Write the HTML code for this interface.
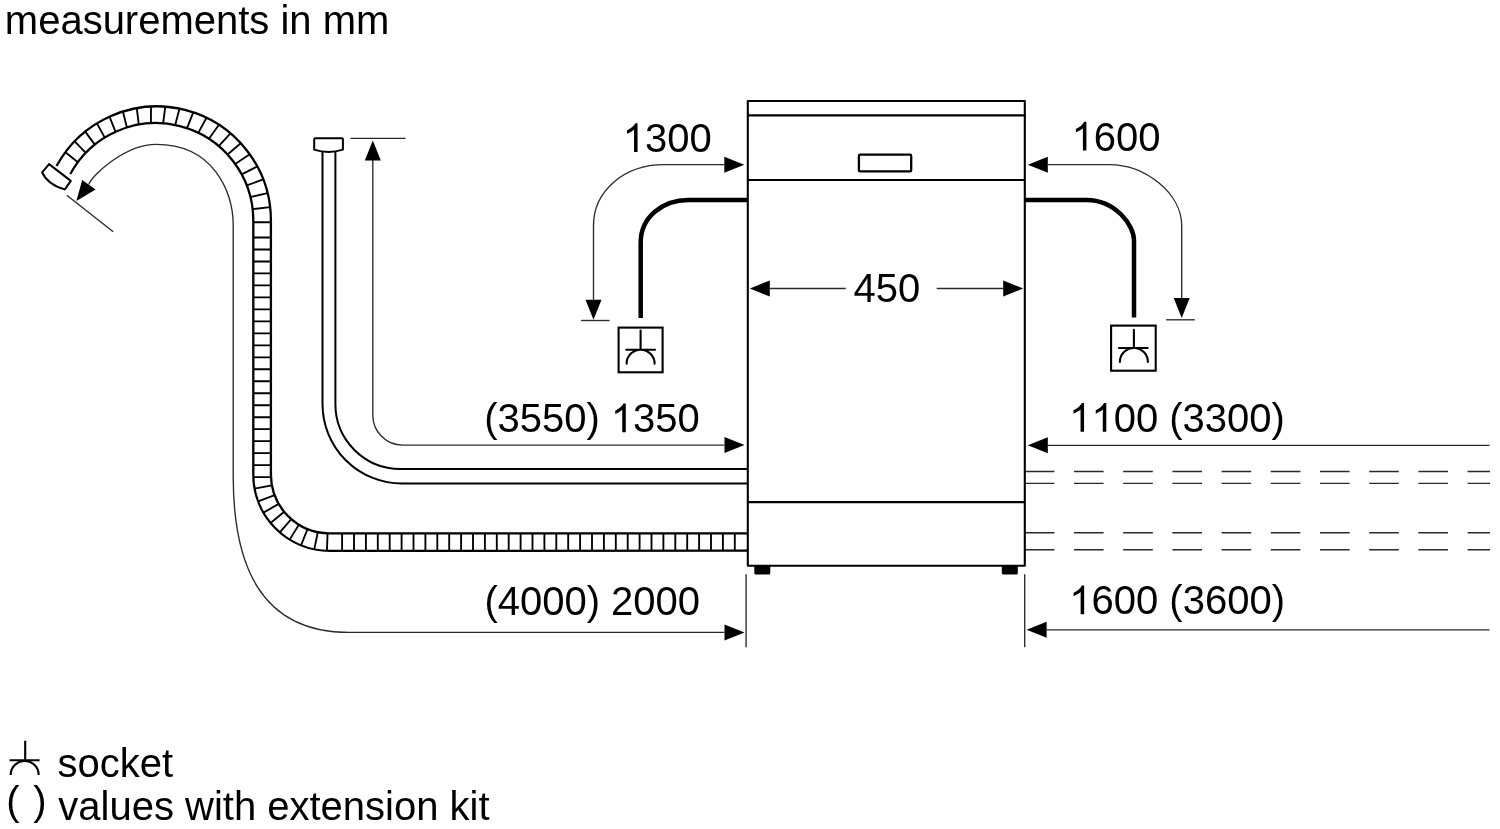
<!DOCTYPE html>
<html><head><meta charset="utf-8"><title>measurements in mm</title>
<style>
html,body{margin:0;padding:0;background:#fff;}
body{width:1500px;height:829px;overflow:hidden;}
svg{display:block;filter:grayscale(1);}
text{font-family:"Liberation Sans",sans-serif;font-size:40px;fill:#000;font-kerning:none;font-feature-settings:"kern" 0;}
</style></head><body>
<svg width="1500" height="829" viewBox="0 0 1500 829">
<rect width="1500" height="829" fill="#fff"/>

<g fill="#000">
<text x="4.81 38.14 60.38 82.63 102.63 124.87 138.19 160.44 193.76 216.01 238.25 249.37 280.48 289.37 322.73 356.05" y="33.6">measurementsinmm</text>
<text x="644.91 667.15 689.4" y="152">300</text><path transform="translate(622.66 152) scale(0.019531 -0.019531)" d="M763 0H583V1147Q518 1085 412.5 1023Q307 961 223 930V1104Q374 1175 487 1276Q600 1377 647 1472H763Z"/>
<text x="1093.76 1116 1138.25" y="150.6">600</text><path transform="translate(1071.51 150.6) scale(0.019531 -0.019531)" d="M763 0H583V1147Q518 1085 412.5 1023Q307 961 223 930V1104Q374 1175 487 1276Q600 1377 647 1472H763Z"/>
<text x="853.5 875.75 898" y="302.3">450</text>
<text x="484.13 497.45 519.7 541.94 564.19 586.43 633.11 655.36 677.61" y="432.2">(3550)350</text><path transform="translate(610.87 432.2) scale(0.019531 -0.019531)" d="M763 0H583V1147Q518 1085 412.5 1023Q307 961 223 930V1104Q374 1175 487 1276Q600 1377 647 1472H763Z"/>
<text x="1113.64 1135.89 1169.25 1182.57 1204.82 1227.06 1249.31 1271.55" y="431.8">00(3300)</text><path transform="translate(1069.15 431.8) scale(0.019531 -0.019531)" d="M763 0H583V1147Q518 1085 412.5 1023Q307 961 223 930V1104Q374 1175 487 1276Q600 1377 647 1472H763Z"/><path transform="translate(1091.4 431.8) scale(0.019531 -0.019531)" d="M763 0H583V1147Q518 1085 412.5 1023Q307 961 223 930V1104Q374 1175 487 1276Q600 1377 647 1472H763Z"/>
<text x="484.38 497.7 519.95 542.19 564.44 586.68 611.12 633.36 655.61 677.86" y="615.2">(4000)2000</text>
<text x="1091.5 1113.74 1135.99 1169.35 1182.67 1204.92 1227.16 1249.41 1271.65" y="614.3">600(3600)</text><path transform="translate(1069.25 614.3) scale(0.019531 -0.019531)" d="M763 0H583V1147Q518 1085 412.5 1023Q307 961 223 930V1104Q374 1175 487 1276Q600 1377 647 1472H763Z"/>
<text x="57.59 77.59 99.83 119.83 139.83 162.08" y="776.6">socket</text>
<text x="58.26 78.26 100.51 109.4 131.64 153.89 185 213.89 222.78 233.89 267.25 289.49 309.49 320.61 342.85 365.1 385.1 393.99 416.23 449.59 469.59 478.48" y="819.8">valueswithextensionkit</text>
<text x="6.32" y="815.4">(</text>
<text x="33.16" y="815.4">)</text>
</g>
<g fill="none" stroke="#000">
<path d="M56.53 166.06A114.1 114.1 0 0 1 270.9 220.5L270.9 474.6A58.7 58.7 0 0 0 329.6 533.3L748 533.4" stroke-width="2.3"/>
<path d="M70.3 174.02A97.4 97.4 0 0 1 253.3 220.5L253.3 474.6A76.3 76.3 0 0 0 329.6 550.9L748 550.7" stroke-width="2.3"/>
<path d="M65.41 152.18L77.89 162.18M74.67 141.29L85.79 152.88M85.23 131.64L94.8 144.65M96.9 123.39L104.77 137.6M109.52 116.66L115.54 131.86M122.88 111.56L126.94 127.5M136.77 108.17L138.8 124.61M150.98 106.55L150.93 123.23M165.28 106.72L163.14 123.37M179.44 108.67L175.23 125.04M193.25 112.38L187.01 128.2M206.49 117.79L198.31 132.82M218.94 124.81L208.95 138.81M230.42 133.33L218.75 146.09M240.75 143.22L227.56 154.53M249.75 154.33L235.25 164.02M257.3 166.48L241.69 174.38M263.27 179.47L246.78 185.48M267.56 193.11L250.45 197.12M270.12 207.18L252.63 209.13M270.9 222.2L253.3 222.2M270.9 237.5L253.3 237.5M270.9 249.48L253.3 249.48M270.9 261.46L253.3 261.46M270.9 273.44L253.3 273.44M270.9 285.42L253.3 285.42M270.9 297.4L253.3 297.4M270.9 309.38L253.3 309.38M270.9 321.36L253.3 321.36M270.9 333.34L253.3 333.34M270.9 345.32L253.3 345.32M270.9 357.3L253.3 357.3M270.9 369.28L253.3 369.28M270.9 381.26L253.3 381.26M270.9 393.24L253.3 393.24M270.9 405.22L253.3 405.22M270.9 417.2L253.3 417.2M270.9 429.18L253.3 429.18M270.9 441.16L253.3 441.16M270.9 453.14L253.3 453.14M270.9 465.12L253.3 465.12M270.9 477.1L253.3 477.1M271.89 485.35L254.59 488.57M274.63 495.19L258.15 501.36M278.72 503.88L263.47 512.66M284.2 511.8L270.58 522.96M291.28 519.07L279.79 532.4M298.91 524.64L289.71 539.64M307.59 529.02L300.99 545.33M317.81 532.1L314.27 549.34M327.55 533.26L326.94 550.85M734.8 533.4L734.8 550.7M722.9 533.4L722.9 550.7M711 533.4L711 550.7M699.1 533.4L699.1 550.7M687.2 533.4L687.2 550.7M675.3 533.4L675.3 550.7M663.4 533.4L663.4 550.7M651.5 533.4L651.5 550.7M639.6 533.4L639.6 550.7M627.7 533.4L627.7 550.7M615.8 533.4L615.8 550.7M603.9 533.4L603.9 550.7M592 533.4L592 550.7M580.1 533.4L580.1 550.7M568.2 533.4L568.2 550.7M556.3 533.4L556.3 550.7M544.4 533.4L544.4 550.7M532.5 533.4L532.5 550.7M520.6 533.4L520.6 550.7M508.7 533.4L508.7 550.7M496.8 533.4L496.8 550.7M484.9 533.4L484.9 550.7M473 533.4L473 550.7M461.1 533.4L461.1 550.7M449.2 533.4L449.2 550.7M437.3 533.4L437.3 550.7M425.4 533.4L425.4 550.7M413.5 533.4L413.5 550.7M401.6 533.4L401.6 550.7M389.7 533.4L389.7 550.7M377.8 533.4L377.8 550.7M365.9 533.4L365.9 550.7M354 533.4L354 550.7M342.1 533.4L342.1 550.7" stroke-width="1.85"/>
</g>
<path d="M49.1 164.1L42.1 172.3Q47.5 184.4 64.9 189.4L70.8 180.9Z" fill="#fff" stroke="#000" stroke-width="2" stroke-linejoin="round"/>
<g fill="none" stroke="#2a2a2a" stroke-width="1.35">
<path d="M724.4 632.4H348.97C257.94 632.4 233.2 561.06 233.2 475.85V224.72C233.2 190.71 212.54 144.4 156.33 144.4C125.33 144.4 92.55 174.45 88.75 184.6"/>
<path d="M66.8 195.2L113.2 231.7"/>
<path d="M372.8 160V414.9A30 30 0 0 0 402.8 445.1H724.4"/>
<path d="M350.5 138.3H405.6"/>
<path d="M724.2 164.65H663.81C624.1 164.65 593.5 191.07 593.5 225.36V299.7"/>
<path d="M581.1 320.5H609.6"/>
<path d="M1047.9 164.65H1109C1145.5 164.65 1181.7 193.5 1181.7 225.7V297.9"/>
<path d="M1166.1 319.8H1194.8"/>
<path d="M770 288.5H845.8M936.7 288.5H1003.2"/>
<path d="M1047.8 445.3H1489.5M1046.6 629.8H1489.5"/>
<path d="M746.1 574.3V647.3M1024.7 574.3V647.3"/>
</g>
<g fill="none" stroke="#2a2a2a" stroke-width="1.4" stroke-dasharray="29.6 19.6">
<path d="M1024.8 471.5H1490"/>
<path d="M1024.8 483.4H1490"/>
<path d="M1024.8 532.8H1490"/>
<path d="M1024.8 549.8H1490"/>
</g>
<g fill="#000">
<path d="M76.4 200.9L82.2 180L95.6 189.4Z"/>
<path d="M372.8 140.4L380.8 160.4L364.8 160.4Z"/>
<path d="M744.5 444.9L724.5 452.9L724.5 436.9Z"/>
<path d="M744.5 632.4L724.5 640.4L724.5 624.4Z"/>
<path d="M744.3 164.65L724.3 172.65L724.3 156.65Z"/>
<path d="M593.5 319.7L585.5 299.7L601.5 299.7Z"/>
<path d="M1027.8 164.65L1047.8 156.65L1047.8 172.65Z"/>
<path d="M1181.7 317.9L1173.7 297.9L1189.7 297.9Z"/>
<path d="M749.8 288.5L769.8 280.5L769.8 296.5Z"/>
<path d="M1023.2 288.5L1003.2 296.5L1003.2 280.5Z"/>
<path d="M1027.8 445.3L1047.8 437.3L1047.8 453.3Z"/>
<path d="M1026.6 629.8L1046.6 621.8L1046.6 637.8Z"/>
</g>
<g fill="none" stroke="#000" stroke-width="2">
<path d="M322.5 150V404A79.5 79.5 0 0 0 402 483.5H748"/>
<path d="M335.4 151.5V404A65 65 0 0 0 400.4 469H748"/>
<path d="M315.3 138.3H341.9Q342.9 138.3 342.9 139.3V149.6Q328.5 154.2 314.2 149.6V139.3Q314.2 138.3 315.3 138.3Z" fill="#fff"/>
</g>
<g fill="none" stroke="#000" stroke-width="2.1">
<path d="M747.8 565.8V101H1024.8V565.8Z" stroke-linejoin="round"/>
<path d="M747.8 115.4H1025.8M747.8 180H1024.8M747.8 502.1H1024.8"/>
<rect x="858.9" y="154.7" width="52.3" height="16.7" rx="1.2" stroke-width="2.3"/>
</g>
<g fill="#000"><rect x="754.3" y="565" width="16" height="9.5" rx="1.5"/><rect x="1001.8" y="565" width="16" height="9.5" rx="1.5"/></g>
<g fill="none" stroke="#000" stroke-width="4.5">
<path d="M748 199.9H688.22C663.28 199.9 640.7 216.63 640.7 242.3V317.9"/>
<path d="M1025 199.9H1086.3C1115.69 199.9 1134 225.29 1134 240.47V317.4"/>
</g>
<g fill="none" stroke="#000">
<rect x="618.6" y="327.6" width="44" height="44.7" stroke-width="2.1"/><path d="M640.6 330.5V349.7M626.3 349.7H655M626.6 363.7A14 14 0 0 1 654.6 363.7" stroke-width="2.1" stroke-linecap="round"/>
<rect x="1111.1" y="325.6" width="44.6" height="45.1" stroke-width="2.1"/><path d="M1133.9 329.9V348M1119 348H1147.7M1119.9 362A14 14 0 0 1 1147.9 362" stroke-width="2.1" stroke-linecap="round"/>
<path d="M25.2 740.8V760.2M9.6 760.2H39.6M10.7 775A14 14 0 0 1 38.7 775" stroke-width="2.1"/>
</g>
</svg></body></html>
